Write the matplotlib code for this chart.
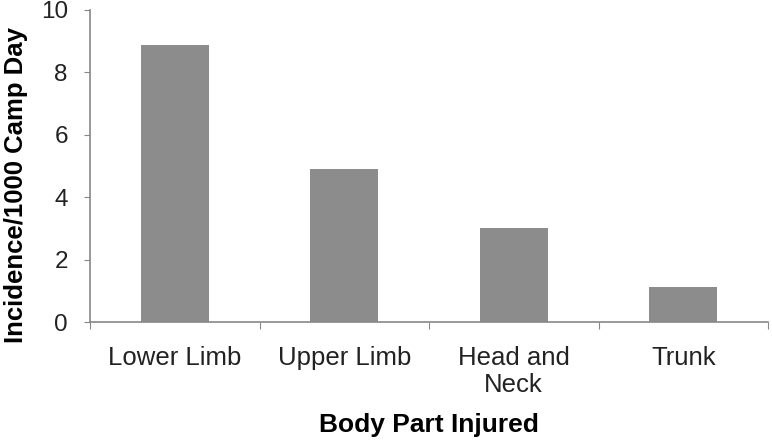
import matplotlib
matplotlib.use("Agg")
import matplotlib.pyplot as plt

categories = ["Lower Limb", "Upper Limb", "Head and\nNeck", "Trunk"]
values = [8.87, 4.9, 3.0, 1.13]
yticks = [0, 2, 4, 6, 8, 10]

plt.rcParams['font.family'] = ['Liberation Sans', 'DejaVu Sans']

fig = plt.figure(figsize=(7.72, 4.44), dpi=100)
ax = fig.add_axes([90/772, 1-322/444, (768-90)/772, (322-10)/444])

x = list(range(len(categories)))
ax.bar(x, values, width=0.4, color="#8c8c8c")
ax.set_xlim(-0.5, len(categories) - 0.5)
ax.set_ylim(0, 10)
ax.set_yticks(yticks)
ax.set_yticklabels([str(t) for t in yticks], fontsize=17.5, color="#222222")

ax.set_xticks([i - 0.5 for i in range(len(categories) + 1)])
ax.set_xticklabels([])
ax.set_xticks(x, minor=True)
ax.set_xticklabels(categories, minor=True, fontsize=18.5, color="#222222",
                   linespacing=1.2)
ax.tick_params(axis='x', which='minor', length=0, pad=17)
ax.tick_params(axis='x', which='major', length=5, color="#888888", direction='out')
ax.tick_params(axis='y', length=4, color="#888888", direction='out', pad=12)

for s in ['top', 'right']:
    ax.spines[s].set_visible(False)
for s in ['left', 'bottom']:
    ax.spines[s].set_color("#888888")
    ax.spines[s].set_linewidth(1.2)

ax.set_ylabel("Incidence/1000 Camp Day", fontsize=18.5, fontweight='bold')
ax.yaxis.set_label_coords(-0.092, 0.44)
ax.set_xlabel("Body Part Injured", fontsize=19, fontweight='bold')
ax.xaxis.set_label_coords(0.5, -0.293)

fig.savefig("out.png", dpi=100)
